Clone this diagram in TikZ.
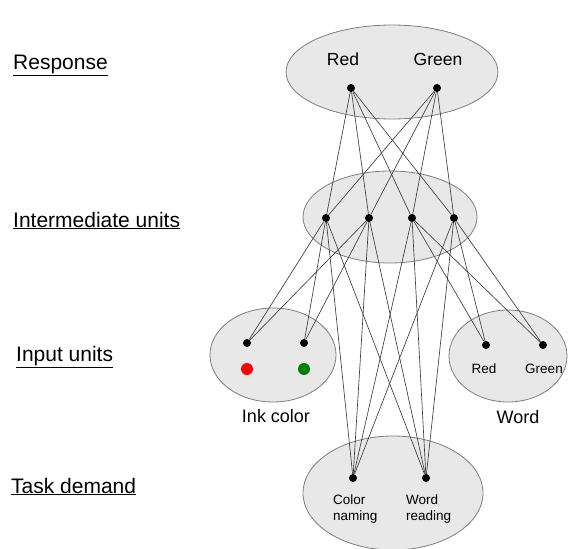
\documentclass[tikz,border=0pt]{standalone}
\usepackage{fontspec}
\setmainfont{Liberation Sans}
\usepackage{tikz}
\usetikzlibrary{shapes.geometric,positioning}
\definecolor{layergray}{RGB}{232,232,232}
\definecolor{rimgray}{RGB}{125,125,125}
\definecolor{wiregray}{RGB}{60,60,60}
\definecolor{inkred}{RGB}{255,0,0}
\definecolor{inkgreen}{RGB}{0,128,0}
\tikzstyle{layer} = [ellipse,draw=rimgray,fill=layergray,line width=0.8pt,inner sep=0pt]
\tikzstyle{unit} = [circle,fill=black,inner sep=0pt,minimum size=8pt]
\tikzstyle{wire} = [draw=wiregray,line width=0.65pt]
\tikzstyle{rowlabel} = [anchor=base west,inner sep=0pt,font=\fontsize{21}{25}\selectfont]

\begin{document}
\begin{tikzpicture}[x=1pt,y=-1pt]
\useasboundingbox (0,0) rectangle (568,549);

% Layers
\node[layer,minimum width=212pt,minimum height=94pt] (resp) at (392,72) {};
\node[layer,minimum width=174pt,minimum height=92pt] (hid) at (390,217) {};
\node[layer,minimum width=126pt,minimum height=94pt] (ink) at (273,355) {};
\node[layer,minimum width=118pt,minimum height=92pt] (word) at (508,356) {};
\node[layer,minimum width=180pt,minimum height=114pt] (task) at (393,493) {};

% Units
\node[unit] (rred) at (351,88) {};
\node[unit] (rgreen) at (437,88) {};
\node[unit] (h1) at (326,218) {};
\node[unit] (h2) at (369,218) {};
\node[unit] (h3) at (412,218) {};
\node[unit] (h4) at (454,218) {};
\node[unit] (ired) at (247,343) {};
\node[unit] (igreen) at (304,343) {};
\node[unit] (wred) at (486,345) {};
\node[unit] (wgreen) at (543,345) {};
\node[unit] (tcolor) at (353,478) {};
\node[unit] (tword) at (426,478) {};

% Connections
\foreach \r in {rred,rgreen}
  \foreach \h in {h1,h2,h3,h4}
    \draw[wire] (\r) -- (\h);
\foreach \i in {ired,igreen}
  \foreach \h in {h1,h2}
    \draw[wire] (\i) -- (\h);
\foreach \w in {wred,wgreen}
  \foreach \h in {h3,h4}
    \draw[wire] (\w) -- (\h);
\foreach \t in {tcolor,tword}
  \foreach \h in {h1,h2,h3,h4}
    \draw[wire] (\t) -- (\h);

% Ink dots
\fill[inkred] (247,369) circle (6pt);
\fill[inkgreen] (304,369) circle (6pt);

% Unit labels
\node[anchor=base,font=\fontsize{17.5}{20}\selectfont] (lred) at (343,65) {Red};
\node[anchor=base,font=\fontsize{17.5}{20}\selectfont] (lgreen) at (438,65) {Green};
\node[anchor=base,font=\fontsize{13.5}{16}\selectfont] (lwred) at (484,373) {Red};
\node[anchor=base,font=\fontsize{13.5}{16}\selectfont] (lwgreen) at (544,373) {Green};
\node[anchor=base west,inner sep=0pt,align=left,font=\fontsize{13.5}{16}\selectfont] (lcolor) at (333,520) {Color\\naming};
\node[anchor=base west,inner sep=0pt,align=left,font=\fontsize{13.5}{16}\selectfont] (lword) at (406,520) {Word\\reading};
\node[anchor=base,font=\fontsize{18}{22}\selectfont] (link) at (276,422) {Ink color};
\node[anchor=base,font=\fontsize{18}{22}\selectfont] (lwordin) at (518,423) {Word};

% Row labels
\node[rowlabel] (response) at (13,69) {\underline{Response}};
\node[rowlabel] (intermediate) at (13,227) {\underline{Intermediate units}};
\node[rowlabel] (input) at (16,361) {\underline{Input units}};
\node[rowlabel] (taskdemand) at (11,493) {\underline{Task demand}};
\end{tikzpicture}
\end{document}
